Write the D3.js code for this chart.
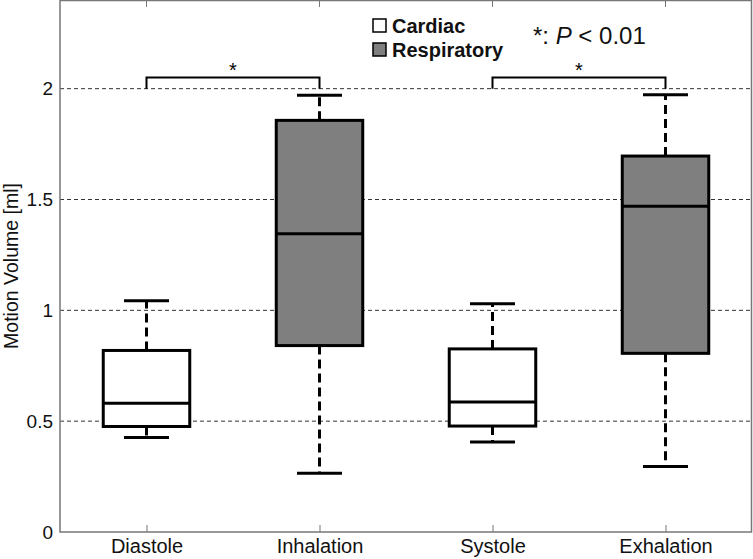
<!DOCTYPE html>
<html><head><meta charset="utf-8">
<script src="https://cdn.jsdelivr.net/npm/d3@7"></script>
<style>body{margin:0;background:#fff;}svg{display:block;font-family:"Liberation Sans",Arial,sans-serif;}</style>
</head><body>
<script>
const categories = ["Diastole","Inhalation","Systole","Exhalation"];
const groups = ["Cardiac","Respiratory","Cardiac","Respiratory"];
const whiskerLow  = [0.426, 0.265, 0.406, 0.295];
const q1          = [0.476, 0.841, 0.478, 0.806];
const median      = [0.581, 1.345, 0.586, 1.469];
const q3          = [0.819, 1.857, 0.826, 1.696];
const whiskerHigh = [1.043, 1.970, 1.030, 1.973];
const yTicks = [0, 0.5, 1, 1.5, 2];
const yTickLabels = ["0","0.5","1","1.5","2"];
const brackets = [["Diastole","Inhalation"],["Systole","Exhalation"]];
const legendItems = ["Cardiac","Respiratory"];
const fills = {Cardiac:"#ffffff", Respiratory:"#7f7f7f"};

const W=753,H=559;
const m={l:60,r:1,t:0,b:27};
const FF="Liberation Sans, Arial, sans-serif";
const svg=d3.select("body").append("svg").attr("width",W).attr("height",H);
const x=d3.scaleLinear().domain([0.5,4.5]).range([m.l,W-m.r]);
const y=d3.scaleLinear().domain([0,2.4]).range([H-m.b,m.t]);
const bw=x(1.25)-x(1);
const cw=x(1.13)-x(1);

// grid
svg.append("g").selectAll("line").data(yTicks.filter(d=>d>0)).join("line")
  .attr("x1",m.l).attr("x2",W-m.r).attr("y1",d=>y(d)).attr("y2",d=>y(d))
  .attr("stroke","#333").attr("stroke-width",1).attr("stroke-dasharray","4,3");

// frame
svg.append("rect").attr("x",m.l).attr("y",m.t+0.5).attr("width",W-m.r-m.l-0.5).attr("height",H-m.b-m.t-0.5)
  .attr("fill","none").attr("stroke","#777").attr("stroke-width",1.5);

// y axis labels
const yAxis=d3.axisLeft(y).tickValues(yTicks).tickFormat((d,i)=>yTickLabels[i]).tickSize(0).tickPadding(7);
const ga=svg.append("g").attr("transform",`translate(${m.l},0)`).call(yAxis)
  .attr("font-size",19).attr("font-family",FF);
ga.select(".domain").remove();
ga.selectAll("text").attr("fill","#111");

// x axis
const xAxis=d3.axisBottom(x).tickValues([1,2,3,4]).tickFormat((d,i)=>categories[i]).tickSize(-7).tickPadding(0);
const gx=svg.append("g").attr("transform",`translate(0,${H-m.b})`).call(xAxis)
  .attr("font-size",20).attr("font-family",FF);
gx.select(".domain").remove();
gx.selectAll("line").attr("stroke","#777");
gx.selectAll("text").attr("fill","#111").attr("dy",null).attr("y",21);
// top ticks
svg.append("g").selectAll("line").data([1,2,3,4]).join("line")
  .attr("x1",d=>x(d)).attr("x2",d=>x(d)).attr("y1",m.t).attr("y2",m.t+7).attr("stroke","#777");

// y label
svg.append("text").attr("transform",`translate(18,${(H-m.b)/2}) rotate(-90)`).attr("text-anchor","middle")
  .attr("font-size",19.5).attr("fill","#111").text("Motion Volume [ml]");

// boxes
const data=categories.map((c,i)=>({c,i:i+1,g:groups[i],lo:whiskerLow[i],q1:q1[i],md:median[i],q3:q3[i],hi:whiskerHigh[i]}));
const bg=svg.append("g").selectAll("g").data(data).join("g");
bg.append("line").attr("x1",d=>x(d.i)).attr("x2",d=>x(d.i)).attr("y1",d=>y(d.q3)).attr("y2",d=>y(d.hi))
  .attr("stroke","#000").attr("stroke-width",3).attr("stroke-dasharray","9,5");
bg.append("line").attr("x1",d=>x(d.i)).attr("x2",d=>x(d.i)).attr("y1",d=>y(d.q1)).attr("y2",d=>y(d.lo))
  .attr("stroke","#000").attr("stroke-width",3).attr("stroke-dasharray","9,5");
bg.append("line").attr("x1",d=>x(d.i)-cw).attr("x2",d=>x(d.i)+cw).attr("y1",d=>y(d.hi)).attr("y2",d=>y(d.hi))
  .attr("stroke","#000").attr("stroke-width",3);
bg.append("line").attr("x1",d=>x(d.i)-cw).attr("x2",d=>x(d.i)+cw).attr("y1",d=>y(d.lo)).attr("y2",d=>y(d.lo))
  .attr("stroke","#000").attr("stroke-width",3);
bg.append("rect").attr("x",d=>x(d.i)-bw).attr("width",2*bw).attr("y",d=>y(d.q3)).attr("height",d=>y(d.q1)-y(d.q3))
  .attr("fill",d=>fills[d.g]).attr("stroke","#000").attr("stroke-width",3);
bg.append("line").attr("x1",d=>x(d.i)-bw).attr("x2",d=>x(d.i)+bw).attr("y1",d=>y(d.md)).attr("y2",d=>y(d.md))
  .attr("stroke","#000").attr("stroke-width",3);

// significance brackets
brackets.forEach(([a,b])=>{
  const xa=x(categories.indexOf(a)+1), xb=x(categories.indexOf(b)+1);
  const yb=y(2.05), yt=y(2.0);
  svg.append("path").attr("d",`M${xa},${yt}V${yb}H${xb}V${yt}`).attr("fill","none").attr("stroke","#000").attr("stroke-width",2);
  svg.append("text").attr("x",(xa+xb)/2).attr("y",yb-1).attr("text-anchor","middle").attr("font-size",20).attr("fill","#000").text("*");
});

// legend
legendItems.forEach((g,i)=>{
  const ly=19+i*24;
  svg.append("rect").attr("x",373).attr("y",ly).attr("width",13).attr("height",13).attr("fill",fills[g]).attr("stroke","#000").attr("stroke-width",1.5);
  svg.append("text").attr("x",392).attr("y",ly+14).attr("font-size",20).attr("font-weight","bold").attr("fill","#111").text(g);
});
const pt=svg.append("text").attr("x",533).attr("y",44).attr("font-size",24).attr("fill","#111");
pt.append("tspan").text("*: ");
pt.append("tspan").attr("font-style","italic").text("P");
pt.append("tspan").text(" < 0.01");
</script>
</body></html>
